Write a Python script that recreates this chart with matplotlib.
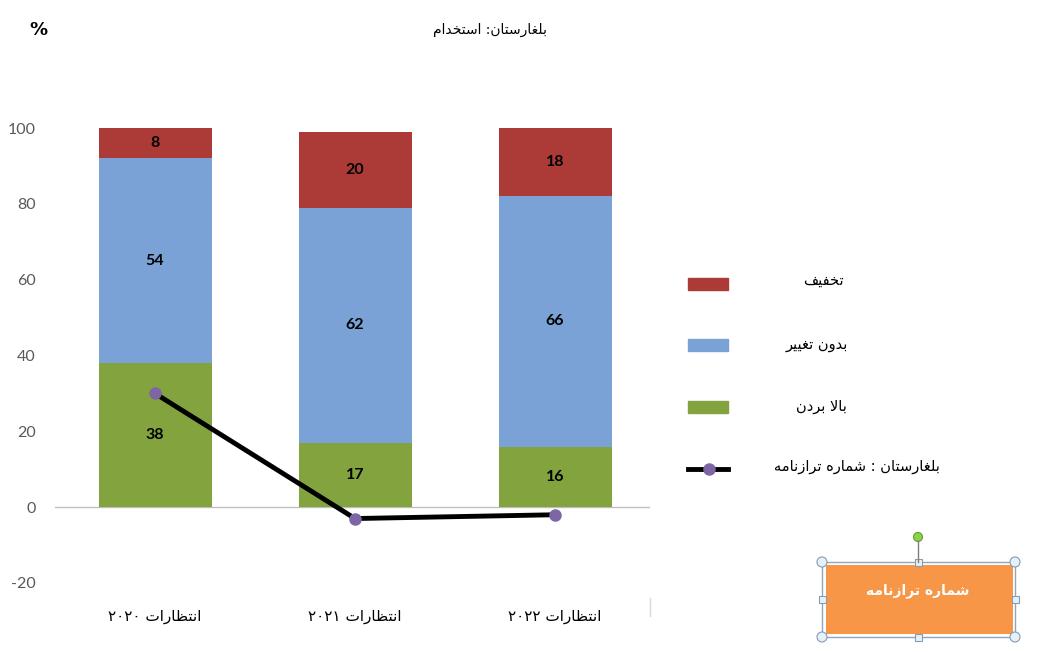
import re
import matplotlib
matplotlib.use("Agg")
import matplotlib.pyplot as plt
from matplotlib.patches import Rectangle, Circle
from matplotlib.lines import Line2D

# data
categories = ["انتظارات ۲۰۲۰", "انتظارات ۲۰۲۱", "انتظارات ۲۰۲۲"]
increase = [38, 17, 16]      # بالا بردن
no_change = [54, 62, 66]     # بدون تغییر
decrease = [8, 20, 18]       # تخفیف
balance = [30, -3, -2]       # شماره ترازنامه
yticks = [-20, 0, 20, 40, 60, 80, 100]

title = "بلغارستان: استخدام"
legend_labels = ["تخفیف", "بدون تغییر", "بالا بردن", "بلغارستان : شماره ترازنامه"]
box_label = "شماره ترازنامه"

RED = "#AC3B38"
BLUE = "#7BA2D7"
GREEN = "#83A33F"
PURPLE = "#7D66A3"
ORANGE = "#F79646"

# Arabic presentation forms: (isolated, final, initial, medial)
FORMS = {
    "ا": ("\uFE8D", "\uFE8E"),
    "ب": ("\uFE8F", "\uFE90", "\uFE91", "\uFE92"),
    "ت": ("\uFE95", "\uFE96", "\uFE97", "\uFE98"),
    "خ": ("\uFEA5", "\uFEA6", "\uFEA7", "\uFEA8"),
    "د": ("\uFEA9", "\uFEAA"),
    "ر": ("\uFEAD", "\uFEAE"),
    "ز": ("\uFEAF", "\uFEB0"),
    "س": ("\uFEB1", "\uFEB2", "\uFEB3", "\uFEB4"),
    "ش": ("\uFEB5", "\uFEB6", "\uFEB7", "\uFEB8"),
    "ظ": ("\uFEC5", "\uFEC6", "\uFEC7", "\uFEC8"),
    "غ": ("\uFECD", "\uFECE", "\uFECF", "\uFED0"),
    "ف": ("\uFED1", "\uFED2", "\uFED3", "\uFED4"),
    "ل": ("\uFEDD", "\uFEDE", "\uFEDF", "\uFEE0"),
    "م": ("\uFEE1", "\uFEE2", "\uFEE3", "\uFEE4"),
    "ن": ("\uFEE5", "\uFEE6", "\uFEE7", "\uFEE8"),
    "ه": ("\uFEE9", "\uFEEA", "\uFEEB", "\uFEEC"),
    "و": ("\uFEED", "\uFEEE"),
    "ی": ("\uFEEF", "\uFEF0", "\uFEF3", "\uFEF4"),
}


def shape(text):
    out = []
    i = 0
    n = len(text)
    while i < n:
        c = text[i]
        if c not in FORMS:
            out.append(c)
            i += 1
            continue
        prev = text[i - 1] if i > 0 else None
        con_prev = prev in FORMS and len(FORMS[prev]) == 4
        if c == "ل" and i + 1 < n and text[i + 1] == "ا":
            out.append("\uFEFC" if con_prev else "\uFEFB")
            i += 2
            continue
        nxt = text[i + 1] if i + 1 < n else None
        con_next = len(FORMS[c]) == 4 and nxt in FORMS
        f = FORMS[c]
        if con_prev and con_next:
            out.append(f[3])
        elif con_prev:
            out.append(f[1])
        elif con_next:
            out.append(f[2])
        else:
            out.append(f[0])
        i += 1
    return "".join(out)


def rtl(text):
    parts = re.split(r"([0-9\u06F0-\u06F9]+)", shape(text))
    vis = []
    for p in reversed(parts):
        if p and p[0] in "0123456789۰۱۲۳۴۵۶۷۸۹":
            vis.append(p)
        else:
            vis.append(p[::-1])
    return "".join(vis)


plt.rcParams["font.family"] = ["DejaVu Sans"]

fig = plt.figure(figsize=(10.51, 6.53), dpi=100)
ax = fig.add_axes([55 / 1051, 1 - 583 / 653, 600 / 1051, 455 / 653])

x = range(len(categories))
w = 0.565
bottom2 = [a + b for a, b in zip(increase, no_change)]
b1 = ax.bar(x, increase, w, color=GREEN, zorder=2)
b2 = ax.bar(x, no_change, w, bottom=increase, color=BLUE, zorder=2)
b3 = ax.bar(x, decrease, w, bottom=bottom2, color=RED, zorder=2)
for bars in (b1, b2, b3):
    ax.bar_label(bars, label_type="center", fontsize=11.5, fontweight="bold",
                 family="Lato", color="black")

ax.axhline(0, xmax=0.99, color="#BFBFBF", lw=1, zorder=1)
ax.plot(x, balance, color="black", lw=3.5, marker="o", ms=8,
        mfc=PURPLE, mec=PURPLE, zorder=5)

ax.set_xlim(-0.5, 2.5)
ax.set_ylim(-20, 100)
ax.set_yticks(yticks)
ax.set_yticklabels([str(v) for v in yticks], family="Lato", fontsize=11.5,
                   color="#595959")
ax.set_xticks(list(x))
ax.set_xticklabels([rtl(c) for c in categories], fontsize=11, color="black")
ax.tick_params(axis="y", length=0, pad=14)
ax.tick_params(axis="x", length=0, pad=19)
for s in ax.spines.values():
    s.set_visible(False)

# overlay in pixel coordinates for title, legend and the text box
ov = fig.add_axes([0, 0, 1, 1])
ov.set_xlim(0, 1051)
ov.set_ylim(653, 0)
ov.axis("off")
ov.patch.set_alpha(0)

ov.text(490, 30, rtl(title), ha="center", va="center", fontsize=10)
ov.text(38, 30, "%", ha="center", va="center", fontsize=13, fontweight="bold")
ov.add_line(Line2D([650, 650], [598, 616], color="#D9D9D9", lw=1))

# legend
handle_y = [284, 345, 407, 469]
text_pos = [(823, 280), (817, 345), (821, 407), (857, 466)]
for i, col in enumerate([RED, BLUE, GREEN]):
    ov.add_patch(Rectangle((688, handle_y[i] - 6), 40, 12, color=col))
ov.add_line(Line2D([688, 728], [handle_y[3], handle_y[3]], color="black", lw=3.5))
ov.plot([709], [handle_y[3]], "o", ms=8, color=PURPLE)
for lab, (tx, ty) in zip(legend_labels, text_pos):
    ov.text(tx, ty, rtl(lab), ha="center", va="center", fontsize=10.5)

# selected text box
frame = "#8FA5BC"
ov.add_patch(Rectangle((826, 565), 187, 69, facecolor=ORANGE, edgecolor="none"))
ov.add_patch(Rectangle((822, 562), 193, 75, facecolor="none", edgecolor=frame, lw=1))
ov.text(918, 591, rtl(box_label), ha="center", va="center", fontsize=10,
        fontweight="bold", color="white")
ov.add_line(Line2D([918, 918], [541, 562], color="#7F7F7F", lw=1))
ov.add_patch(Circle((918, 537), 4.5, facecolor="#8DD24B", edgecolor="#5E9E2B", lw=0.8))
for cx, cy in [(822, 562), (1015, 562), (822, 637), (1015, 637)]:
    ov.add_patch(Circle((cx, cy), 5, facecolor="#E4F0FA", edgecolor="#8A9BAD", lw=0.8))
for cx, cy in [(918, 562), (918, 637), (822, 599), (1015, 599)]:
    ov.add_patch(Rectangle((cx - 3.5, cy - 3.5), 7, 7, facecolor="#E4F0FA",
                           edgecolor="#8A9BAD", lw=0.8))

fig.savefig("out.png", dpi=100)
